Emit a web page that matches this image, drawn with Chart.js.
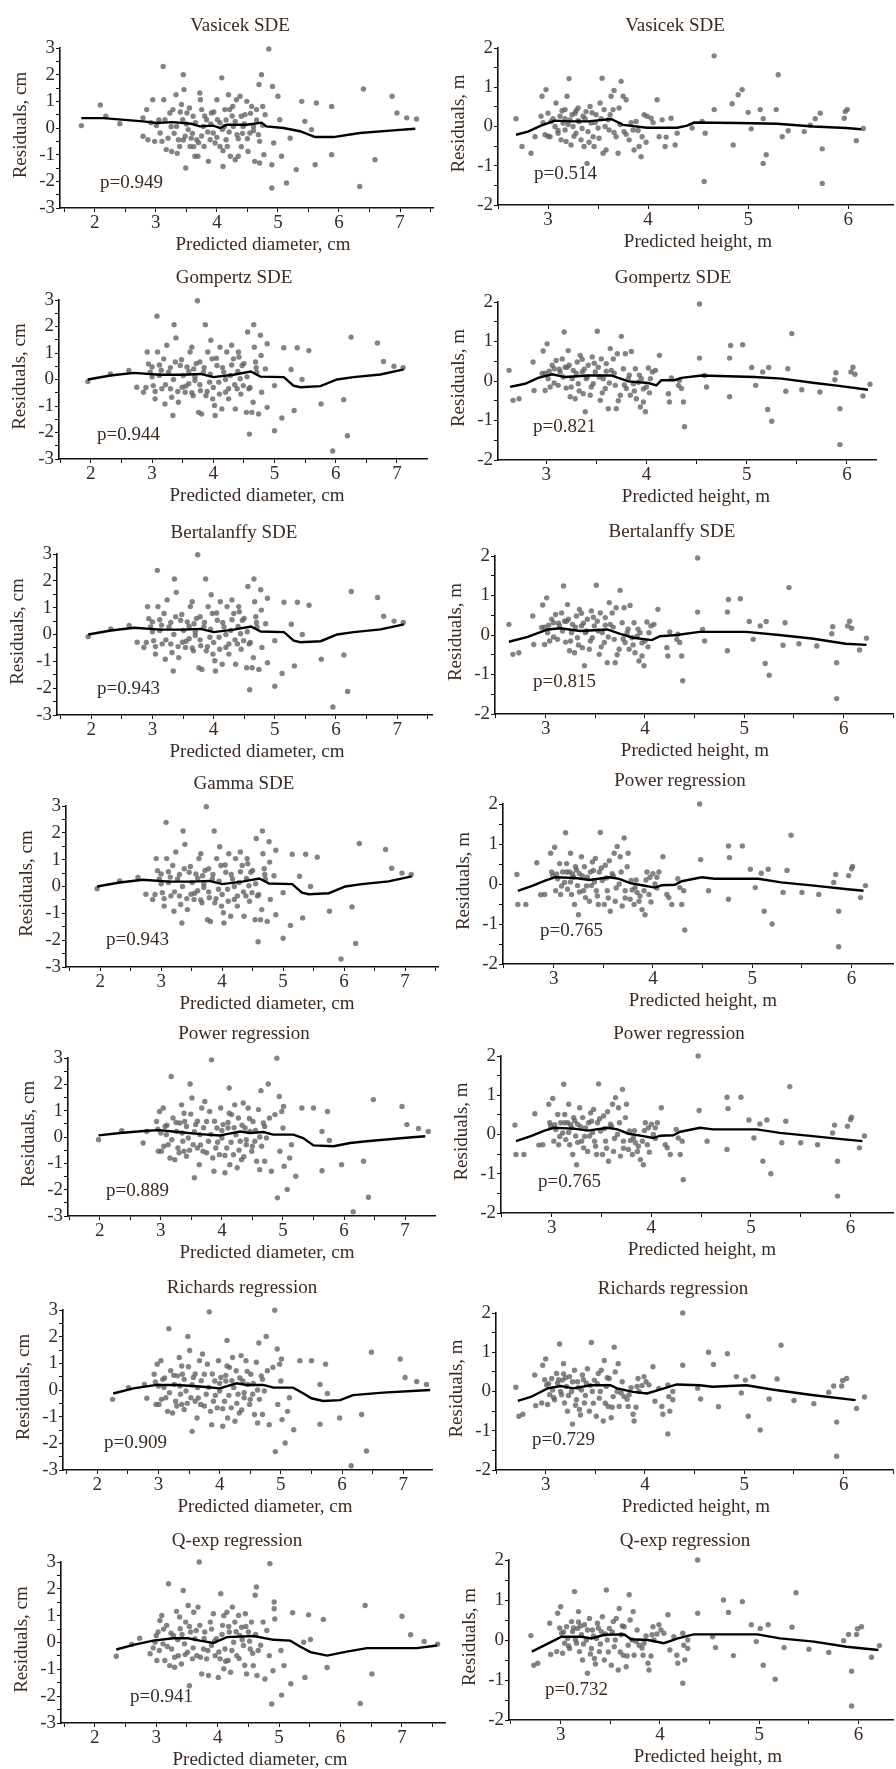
<!DOCTYPE html>
<html>
<head>
<meta charset="utf-8">
<title>Residual plots</title>
<script src="https://cdn.jsdelivr.net/npm/chart.js@4.4.1/dist/chart.umd.min.js"></script>
<style>
  html, body { margin: 0; padding: 0; background: #fff; }
  #page { position: relative; width: 896px; height: 1769px; overflow: hidden; background: #fff; }
  #page canvas { position: absolute; }
</style>
</head>
<body>
<div id="page"></div>
<script>
// ---- residual points, [predicted, residual] ----
const vasicekDiamPts = [
  [1.78,0.09],[2.09,0.86],[2.18,0.44],[2.41,0.16],[2.79,0.38],[2.79,-0.31],[2.85,0.69],[2.87,-0.44],[2.95,1.06],[2.98,-0.5],
  [3.01,0.09],[3.07,-0.19],[3.12,2.31],[3.13,1.06],[3.15,0.31],[3.17,-0.81],[3.2,-0.38],[3.23,0.56],[3.26,-0.88],[3.28,0.69],
  [3.33,1.25],[3.34,0.06],[3.37,-0.44],[3.39,-0.69],[3.42,0.88],[3.44,0.31],[3.45,2.0],[3.46,1.44],[3.48,-0.31],[3.49,-1.5],
  [3.51,0.56],[3.53,-0.06],[3.56,-0.69],[3.58,-0.38],[3.61,0.44],[3.64,-1.06],[3.67,-0.44],[3.69,-1.06],[3.72,1.31],[3.73,1.06],
  [3.75,0.69],[3.78,0.06],[3.79,-0.69],[3.83,0.31],[3.86,-1.25],[3.89,-0.44],[3.91,0.56],[3.94,-0.19],[3.97,-0.56],[4.0,1.06],
  [4.01,0.31],[4.05,-0.69],[4.08,1.88],[4.09,-0.06],[4.1,-1.44],[4.13,0.69],[4.15,-0.44],[4.17,-0.69],[4.19,1.25],[4.21,0.69],
  [4.22,-1.06],[4.26,0.81],[4.27,0.06],[4.3,-1.19],[4.32,1.06],[4.33,-0.25],[4.35,-1.06],[4.38,1.19],[4.4,0.44],[4.43,0.06],
  [4.46,0.5],[4.49,1.0],[4.51,-0.88],[4.54,-0.19],[4.57,0.81],[4.6,0.06],[4.62,-1.25],[4.65,0.69],[4.68,-0.25],[4.69,1.63],
  [4.7,-1.31],[4.73,2.0],[4.75,0.81],[4.77,-1.0],[4.79,0.5],[4.85,2.96],[4.9,-2.25],[4.9,-1.38],[4.91,1.56],[4.93,-0.56],
  [5.0,1.19],[5.03,0.31],[5.06,-1.06],[5.14,-2.06],[5.2,-0.38],[5.3,-1.56],[5.39,1.0],[5.44,0.25],[5.55,-0.06],[5.61,-1.38],
  [5.63,0.94],[5.88,0.81],[5.88,-1.0],[6.34,-2.19],[6.4,1.46],[6.59,-1.19],[6.87,1.19],[6.95,0.56],[7.11,0.38],[7.27,0.34],
  [3.05,0.3],[3.1,-0.5],[3.25,0.05],[3.3,-0.2],[3.4,0.6],[3.45,-0.45],[3.5,0.15],[3.55,0.75],[3.6,-0.2],[3.65,0.2],
  [3.7,-0.55],[3.75,-0.3],[3.8,0.45],[3.85,-0.15],[3.9,0.15],[3.95,0.6],[4.0,-0.35],[4.05,0.2],[4.1,-0.85],[4.15,0.3],
  [4.2,-0.15],[4.25,0.45],[4.3,0.25],[4.35,-0.4],[4.4,-0.7],[4.45,0.15],[4.5,-0.4],[4.55,0.55],[4.6,-0.1],[4.65,0.3],
  [4.7,-0.5],[4.75,0.1],[2.92,0.2],[3.35,-0.95],[3.62,-0.7],[4.12,0.05],[4.42,-0.2]
];

const gompertzDiamPts = [
  [1.95,-0.08],[2.32,0.21],[2.62,0.34],[2.75,-0.29],[2.86,-0.48],[2.92,1.04],[2.94,0.59],[2.97,0.28],[3.0,0.47],[3.02,-0.23],
  [3.05,-0.73],[3.08,2.39],[3.09,1.04],[3.12,0.15],[3.16,-0.35],[3.19,0.78],[3.21,-0.92],[3.24,1.29],[3.27,0.28],[3.3,-0.35],
  [3.32,-0.67],[3.34,-1.36],[3.36,2.07],[3.38,0.66],[3.39,1.57],[3.43,-0.86],[3.46,0.53],[3.49,-0.29],[3.51,0.15],[3.54,-0.48],
  [3.57,0.47],[3.6,-0.16],[3.62,1.04],[3.65,1.22],[3.67,-0.61],[3.68,0.4],[3.7,-0.04],[3.74,2.97],[3.76,-1.24],[3.78,0.66],
  [3.79,-0.42],[3.81,-1.3],[3.84,0.28],[3.87,2.07],[3.88,-0.61],[3.91,1.04],[3.94,-0.1],[3.96,1.48],[3.98,0.78],[3.99,-0.73],
  [4.02,-0.98],[4.03,-1.36],[4.06,0.53],[4.09,-0.1],[4.11,1.22],[4.14,-1.11],[4.17,0.28],[4.2,-0.48],[4.22,1.04],[4.25,-0.73],
  [4.28,0.15],[4.3,1.29],[4.33,0.78],[4.36,-1.11],[4.39,-0.35],[4.41,1.04],[4.44,0.03],[4.47,0.53],[4.49,-0.23],[4.54,-1.24],
  [4.56,1.79],[4.58,-0.35],[4.59,-2.06],[4.63,-1.24],[4.65,-0.86],[4.66,2.07],[4.67,1.22],[4.69,0.66],[4.71,0.28],[4.74,-1.3],
  [4.77,1.67],[4.78,0.91],[4.79,-0.48],[4.85,0.4],[4.88,1.35],[4.88,-1.05],[5.0,-0.23],[5.0,-1.93],[5.12,-1.45],[5.15,1.2],
  [5.27,0.38],[5.32,-1.17],[5.37,1.2],[5.45,0.0],[5.56,1.09],[5.76,-0.92],[5.95,-2.7],[6.13,-0.76],[6.19,-2.12],[6.25,1.6],
  [6.68,1.38],[6.78,0.68],[6.95,0.5],[7.1,0.45],
  [3.0,0.1],[3.05,-0.45],[3.15,0.35],[3.22,-0.2],[3.3,0.45],[3.35,0.0],[3.42,-0.45],[3.48,0.75],[3.55,-0.25],[3.6,0.3],
  [3.65,-0.5],[3.72,0.6],[3.78,-0.2],[3.85,0.45],[3.9,-0.45],[3.95,0.2],[4.0,-0.3],[4.05,0.8],[4.1,-0.55],[4.15,0.45],
  [4.2,0.0],[4.25,-0.35],[4.3,0.55],[4.35,-0.2],[4.4,0.3],[4.45,-0.55],[4.5,0.6],[4.55,0.1],[4.6,-0.3],[4.7,0.45],
  [2.9,-0.3],[3.12,0.55],[3.7,0.1],[4.42,0.85]
];

const powerDiamPts = [
  [1.98,-0.1],[2.36,0.24],[2.71,-0.23],[2.77,0.21],[2.93,0.59],[2.96,-0.54],[2.98,0.97],[3.01,-0.54],[3.04,1.1],[3.07,0.4],
  [3.09,0.09],[3.12,-0.29],[3.15,-0.8],[3.17,2.3],[3.2,0.72],[3.23,-0.86],[3.26,0.21],[3.28,-0.42],[3.31,0.53],[3.34,1.22],
  [3.36,-0.16],[3.38,-0.54],[3.39,0.59],[3.42,-0.73],[3.45,-0.04],[3.48,2.01],[3.49,0.87],[3.51,1.48],[3.53,-0.29],[3.55,-1.55],
  [3.57,0.47],[3.6,-0.42],[3.63,-1.05],[3.64,0.09],[3.67,1.1],[3.69,-0.54],[3.72,1.35],[3.75,0.59],[3.78,-0.16],[3.8,0.97],
  [3.83,2.93],[3.85,-0.8],[3.87,-1.3],[3.9,-0.42],[3.92,0.34],[3.96,-0.67],[3.98,1.1],[4.0,-0.04],[4.02,0.47],[4.05,-1.36],
  [4.08,-0.42],[4.1,0.34],[4.12,1.86],[4.13,-1.05],[4.16,0.85],[4.19,-0.67],[4.21,1.22],[4.23,0.09],[4.25,-1.17],[4.27,0.72],
  [4.3,-0.16],[4.32,-0.86],[4.35,1.29],[4.38,0.34],[4.4,-0.29],[4.43,1.1],[4.46,0.21],[4.49,-0.54],[4.51,0.59],[4.54,-0.16],
  [4.57,-0.92],[4.6,1.04],[4.62,-1.24],[4.64,1.76],[4.65,-0.35],[4.68,0.53],[4.7,-0.92],[4.73,-0.04],[4.76,2.01],[4.78,0.72],
  [4.81,-1.3],[4.87,0.85],[4.9,2.99],[4.91,-2.31],[4.94,1.54],[4.95,-0.54],[4.98,0.97],[5.01,1.16],[5.0,0.34],[5.02,-1.11],
  [5.07,-1.99],[5.11,-0.8],[5.14,-0.29],[5.21,-1.49],[5.31,1.1],[5.5,1.1],[5.73,0.97],[5.64,0.21],[5.64,-1.28],[5.76,-0.13],
  [5.96,-1.05],[6.15,-2.84],[6.32,-0.92],[6.4,-2.29],[6.48,1.42],[6.95,1.16],[7.03,0.47],[7.22,0.32],[7.38,0.21],
  [3.0,0.15],[3.05,-0.35],[3.1,0.45],[3.18,-0.1],[3.25,0.55],[3.3,-0.6],[3.35,0.15],[3.42,0.4],[3.47,-0.5],[3.55,0.2],
  [3.6,0.6],[3.65,-0.3],[3.7,0.35],[3.75,-0.6],[3.82,0.1],[3.88,0.6],[3.93,-0.2],[4.0,0.25],[4.05,-0.7],[4.1,0.55],
  [4.15,-0.2],[4.2,0.35],[4.28,-0.5],[4.33,0.45],[4.4,-0.1],[4.45,0.7],[4.5,-0.35],[4.55,0.25],[4.62,0.0],[4.7,0.4],
  [2.95,0.3],[3.38,0.9],[4.12,0.9],[4.36,-0.75]
];

// Richards keeps the Power cloud except its three leftmost residuals
const richardsDiamLeft = [[2.25,-0.35],[2.51,0.09],[2.81,-0.31]];
const richardsDiamPts = richardsDiamLeft.concat(powerDiamPts.slice(3));

const qexpDiamPts = [
  [2.35,-0.51],[2.6,-0.07],[2.73,0.16],[2.9,-0.42],[2.98,0.01],[3.01,-0.67],[3.03,0.39],[3.06,0.82],[3.09,1.01],[3.11,-0.05],
  [3.14,-0.67],[3.17,0.64],[3.2,2.19],[3.22,-0.86],[3.25,-0.24],[3.28,0.26],[3.3,-0.92],[3.33,1.16],[3.36,-0.49],[3.39,0.51],
  [3.41,-0.8],[3.44,1.94],[3.46,-0.05],[3.48,0.76],[3.51,-0.36],[3.52,1.38],[3.54,-1.61],[3.56,0.39],[3.59,-0.61],[3.61,1.13],
  [3.63,0.14],[3.66,-0.49],[3.68,1.32],[3.7,3.0],[3.71,0.64],[3.74,-1.17],[3.77,-0.24],[3.79,0.39],[3.82,-0.61],[3.85,-1.23],
  [3.88,0.76],[3.9,-0.11],[3.93,1.07],[3.96,-0.49],[3.98,0.14],[4.01,-1.3],[4.04,-0.61],[4.05,1.82],[4.08,0.64],[4.1,-0.98],
  [4.12,-0.24],[4.15,1.13],[4.17,-0.67],[4.19,0.39],[4.21,-1.11],[4.24,1.32],[4.26,0.01],[4.28,0.76],[4.31,-0.49],[4.34,1.01],
  [4.36,0.26],[4.39,0.57],[4.42,-0.11],[4.45,1.07],[4.47,-1.17],[4.5,0.39],[4.53,-0.24],[4.55,0.76],[4.58,-0.86],[4.61,1.76],
  [4.63,2.07],[4.64,-1.23],[4.66,-0.3],[4.74,0.76],[4.77,-1.36],[4.8,0.45],[4.84,-0.49],[4.85,2.94],[4.88,-2.29],[4.9,-1.05],
  [4.92,1.51],[4.92,1.26],[4.93,0.88],[5.03,-0.3],[5.04,-1.96],[5.08,-0.86],[5.19,-1.54],[5.22,1.11],[5.4,0.01],[5.42,-1.3],
  [5.48,1.03],[5.51,0.11],[5.72,0.86],[5.78,-0.93],[6.32,-2.27],[6.4,1.38],[6.51,-1.17],[7.0,0.98],[7.14,0.29],[7.36,0.04],
  [7.58,-0.06],
  [3.0,0.25],[3.05,-0.3],[3.12,0.5],[3.18,-0.15],[3.24,0.35],[3.3,-0.55],[3.35,0.1],[3.42,0.3],[3.47,-0.45],[3.54,0.6],
  [3.6,-0.2],[3.65,0.45],[3.72,-0.55],[3.78,0.15],[3.84,-0.3],[3.9,0.5],[3.95,0.05],[4.02,-0.35],[4.07,0.3],[4.13,-0.7],
  [4.18,0.6],[4.23,-0.3],[4.3,0.4],[4.35,-0.6],[4.4,0.1],[4.46,0.6],[4.52,0.05],[4.57,-0.4],[4.62,0.3],[4.7,-0.1],
  [2.95,-0.2],[3.38,0.95],[4.1,1.0],[4.44,-0.85]
];

const vasicekHtPts = [
  [2.68,0.2],[2.74,-0.51],[2.83,-0.68],[2.87,-0.26],[2.93,0.26],[2.94,0.77],[2.97,-0.21],[2.98,0.94],[3.0,0.34],[3.02,-0.26],
  [3.03,0.13],[3.07,0.0],[3.08,0.6],[3.1,-0.17],[3.12,0.26],[3.13,-0.34],[3.15,0.09],[3.17,0.43],[3.17,-0.09],[3.18,-0.38],
  [3.19,0.77],[3.21,1.22],[3.22,0.17],[3.23,-0.47],[3.25,0.0],[3.27,0.34],[3.28,-0.17],[3.3,0.47],[3.31,0.13],[3.33,-0.34],
  [3.35,0.26],[3.36,-0.51],[3.38,0.38],[3.39,-0.94],[3.4,-0.13],[3.42,0.51],[3.43,0.09],[3.45,-0.26],[3.46,-0.51],[3.48,0.3],
  [3.5,-0.04],[3.52,0.6],[3.54,1.23],[3.55,-0.68],[3.56,0.43],[3.58,-0.6],[3.6,0.17],[3.61,-0.09],[3.63,0.77],[3.65,0.43],
  [3.66,0.92],[3.68,-0.26],[3.7,-0.68],[3.71,0.47],[3.73,1.15],[3.75,0.77],[3.76,-0.13],[3.78,0.68],[3.81,-0.34],[3.85,-0.09],
  [3.86,-0.6],[3.88,0.13],[3.91,-0.51],[3.93,-0.77],[3.94,-0.26],[3.96,0.3],[3.99,0.26],[4.03,0.21],[4.09,0.68],[4.11,-0.26],
  [4.14,0.17],[4.17,-0.51],[4.18,-0.27],[4.23,0.21],[4.27,-0.47],[4.29,-0.17],[4.44,-0.04],[4.54,0.13],[4.56,-1.4],[4.57,-0.17],
  [4.66,1.8],[4.66,0.43],[4.84,0.58],[4.85,-0.47],[4.9,0.81],[4.94,0.94],[5.0,0.36],[5.03,-0.06],[5.12,0.43],[5.15,-0.94],
  [5.15,0.2],[5.18,-0.72],[5.28,0.43],[5.3,1.32],[5.34,-0.26],[5.4,-0.11],[5.56,-0.13],[5.62,0.03],[5.67,0.2],[5.72,0.34],
  [5.74,-0.57],[5.74,-1.45],[5.96,0.21],[5.97,0.38],[5.99,0.43],[6.08,-0.36],[6.15,-0.05],
  [3.05,0.2],[3.1,-0.1],[3.14,0.4],[3.2,0.05],[3.24,0.3],[3.26,-0.25],[3.3,0.15],[3.34,-0.05],[3.37,0.2],[3.41,-0.4],
  [3.44,0.35],[3.47,0.1],[3.51,-0.3],[3.53,0.2],[3.57,0.0],[3.62,0.3],[3.66,-0.15],[3.72,0.05],[3.78,-0.2],[3.83,0.1],
  [3.9,-0.1],[3.98,-0.4],[4.05,0.1],[2.95,0.1],[3.0,-0.25],[3.17,0.2],[3.28,0.4]
];

const gompertzHtPts = [
  [2.63,0.27],[2.67,-0.49],[2.73,-0.45],[2.87,0.48],[2.88,-0.24],[2.96,0.19],[2.97,0.76],[2.99,-0.24],[3.01,0.94],[3.02,0.06],
  [3.04,-0.15],[3.06,0.4],[3.08,0.31],[3.1,0.52],[3.12,-0.11],[3.14,0.23],[3.16,0.56],[3.18,1.24],[3.2,-0.18],[3.21,0.35],
  [3.22,0.77],[3.24,-0.4],[3.26,0.06],[3.27,0.27],[3.29,-0.45],[3.31,0.48],[3.32,-0.07],[3.34,0.65],[3.36,0.23],[3.37,-0.32],
  [3.39,-0.78],[3.4,0.06],[3.42,0.4],[3.44,-0.36],[3.46,0.61],[3.47,-0.07],[3.49,0.23],[3.51,1.26],[3.52,0.35],[3.54,-0.49],
  [3.55,0.56],[3.57,0.06],[3.59,-0.19],[3.6,0.44],[3.62,-0.7],[3.64,0.82],[3.65,0.27],[3.67,0.56],[3.69,-0.11],[3.7,-0.7],
  [3.71,0.69],[3.74,-0.36],[3.75,1.13],[3.77,0.31],[3.79,0.69],[3.8,-0.19],[3.82,0.06],[3.84,-0.36],[3.85,0.75],[3.87,-0.07],
  [3.89,0.31],[3.9,-0.45],[3.92,-0.03],[3.94,-0.66],[3.95,0.06],[3.97,-0.53],[3.99,-0.78],[4.0,-0.15],[4.02,0.33],[4.04,0.06],
  [4.06,0.23],[4.09,0.27],[4.13,0.65],[4.22,-0.32],[4.23,-0.53],[4.25,0.08],[4.32,-0.11],[4.33,0.02],[4.35,-0.19],[4.37,-0.53],
  [4.38,-1.16],[4.53,1.95],[4.53,0.58],[4.58,0.14],[4.6,-0.15],[4.83,0.58],[4.83,-0.4],[4.84,0.9],[4.96,0.92],[5.05,0.34],
  [5.09,-0.11],[5.16,0.23],[5.21,-0.72],[5.22,0.34],[5.25,-1.02],[5.39,-0.26],[5.41,0.31],[5.45,1.2],[5.55,-0.22],[5.73,-0.28],
  [5.88,0.03],[5.89,0.21],[5.93,-0.7],[5.93,-1.61],[6.04,0.23],[6.06,0.35],[6.08,0.17],[6.16,-0.38],[6.23,-0.08],
  [3.03,0.25],[3.08,-0.05],[3.13,0.3],[3.17,0.1],[3.23,0.4],[3.25,-0.15],[3.3,0.2],[3.33,-0.25],[3.38,0.3],[3.41,0.1],
  [3.45,-0.15],[3.48,0.45],[3.53,0.1],[3.56,-0.3],[3.6,0.25],[3.63,-0.05],[3.68,0.2],[3.72,-0.5],[3.78,-0.1],[3.83,0.15],
  [3.88,-0.25],[3.93,0.15],[3.97,-0.2],[4.03,-0.3],[2.99,0.2],[3.19,0.35],[3.36,0.55]
];

const powerHtPts = [
  [2.63,0.24],[2.64,-0.51],[2.72,-0.51],[2.83,0.53],[2.87,-0.27],[2.91,-0.26],[2.97,0.77],[2.99,0.21],[3.01,0.92],[3.02,-0.17],
  [3.04,0.13],[3.06,0.51],[3.07,-0.26],[3.09,0.3],[3.11,0.04],[3.12,1.28],[3.13,0.51],[3.14,-0.13],[3.16,0.3],[3.17,0.77],
  [3.18,-0.26],[3.2,0.17],[3.21,-0.51],[3.22,0.43],[3.24,-0.04],[3.25,-0.77],[3.26,0.26],[3.28,0.68],[3.3,-0.17],[3.31,0.43],
  [3.32,-0.34],[3.34,0.17],[3.36,-0.43],[3.38,-0.04],[3.4,0.34],[3.42,0.64],[3.43,-0.17],[3.45,-0.51],[3.46,0.3],[3.47,1.29],
  [3.49,0.09],[3.51,-0.51],[3.52,0.47],[3.54,-0.17],[3.56,0.58],[3.57,-0.68],[3.59,0.26],[3.61,0.77],[3.62,-0.43],[3.64,0.94],
  [3.66,0.0],[3.67,0.68],[3.69,-0.55],[3.71,1.15],[3.72,-0.17],[3.74,0.43],[3.75,0.77],[3.77,-0.38],[3.78,0.09],[3.81,-0.51],
  [3.82,-0.09],[3.84,-0.21],[3.86,-0.43],[3.89,-0.64],[3.91,-0.17],[3.92,-0.77],[3.94,0.3],[3.96,-0.26],[3.97,0.17],[4.0,0.26],
  [4.02,0.0],[4.04,0.17],[4.06,0.3],[4.1,0.68],[4.14,-0.26],[4.16,-0.34],[4.19,-0.51],[4.25,0.13],[4.27,-0.09],[4.29,-0.51],
  [4.31,-0.17],[4.32,-1.15],[4.47,2.0],[4.48,0.61],[4.56,-0.17],[4.76,0.95],[4.77,0.66],[4.76,-0.38],[4.9,0.95],[4.98,0.37],
  [5.03,-0.09],[5.09,0.27],[5.12,-0.68],[5.16,0.37],[5.2,-1.0],[5.31,-0.21],[5.35,0.34],[5.39,1.22],[5.5,-0.21],[5.67,-0.26],
  [5.82,0.04],[5.84,0.24],[5.87,-0.68],[5.87,-1.57],[5.97,0.21],[6.0,0.38],[6.01,0.44],[6.09,-0.34],[6.14,-0.04],
  [3.03,0.25],[3.08,-0.05],[3.13,0.3],[3.17,0.05],[3.23,0.35],[3.26,-0.2],[3.29,0.2],[3.33,-0.05],[3.37,0.3],[3.41,0.05],
  [3.44,-0.3],[3.48,0.4],[3.53,0.15],[3.55,-0.35],[3.6,0.2],[3.63,-0.1],[3.68,0.3],[3.72,-0.35],[3.79,-0.15],[3.83,0.1],
  [3.87,-0.3],[3.93,0.1],[3.98,-0.45],[4.04,-0.1],[2.98,0.3],[3.19,0.25],[3.39,0.55]
];

const qexpHtPts = [
  [2.7,0.11],[2.73,-0.63],[2.77,-0.58],[2.89,0.42],[2.9,-0.36],[2.96,-0.29],[2.97,0.67],[3.0,0.83],[3.01,0.17],[3.02,-0.33],
  [3.04,-0.08],[3.06,0.33],[3.07,0.04],[3.09,-0.21],[3.11,0.46],[3.12,0.21],[3.14,1.21],[3.16,-0.08],[3.17,0.29],[3.18,0.71],
  [3.19,-0.29],[3.21,0.13],[3.22,-0.5],[3.24,0.38],[3.26,0.0],[3.27,-0.83],[3.29,0.54],[3.31,-0.21],[3.32,0.25],[3.34,-0.46],
  [3.36,0.04],[3.37,0.42],[3.39,-0.29],[3.41,0.21],[3.42,0.58],[3.44,-0.5],[3.46,1.25],[3.47,0.0],[3.49,0.29],[3.51,-0.63],
  [3.53,0.46],[3.54,-0.17],[3.56,0.54],[3.58,-0.75],[3.59,0.79],[3.61,0.13],[3.63,-0.38],[3.64,0.33],[3.66,-0.67],[3.68,-0.13],
  [3.69,1.13],[3.7,0.5],[3.73,0.71],[3.74,-0.38],[3.76,-0.04],[3.79,-0.13],[3.83,-0.38],[3.84,-0.08],[3.88,-0.58],[3.89,-0.75],
  [3.92,0.13],[3.93,0.33],[3.94,0.0],[3.99,0.38],[4.01,0.25],[4.04,0.17],[4.08,0.63],[4.1,-0.25],[4.14,0.08],[4.17,-0.38],
  [4.18,-0.58],[4.23,0.17],[4.23,-1.08],[4.24,-0.13],[4.25,-0.5],[4.28,0.0],[4.28,-0.21],[4.38,2.0],[4.38,0.67],[4.53,0.08],
  [4.56,-0.19],[4.64,1.0],[4.69,0.69],[4.74,-0.39],[4.83,0.96],[4.92,0.38],[4.97,-0.04],[5.01,0.29],[5.04,-0.63],[5.09,0.38],
  [5.16,-0.98],[5.25,-0.19],[5.33,0.32],[5.37,1.18],[5.5,-0.23],[5.7,-0.31],[5.85,-0.02],[5.9,0.14],[5.93,-0.78],[5.93,-1.65],
  [5.98,0.14],[5.99,0.28],[6.03,0.33],[6.13,-0.43],[6.21,-0.14],
  [3.03,0.2],[3.08,-0.15],[3.13,0.3],[3.15,0.0],[3.2,0.35],[3.23,-0.1],[3.27,0.25],[3.3,-0.35],[3.33,0.1],[3.38,0.3],
  [3.4,-0.1],[3.45,0.15],[3.48,-0.3],[3.52,0.2],[3.55,0.0],[3.6,-0.3],[3.62,0.35],[3.67,-0.4],[3.72,0.0],[3.77,0.25],
  [3.82,-0.2],[3.86,0.1],[3.91,-0.4],[3.97,0.15],[2.99,0.3],[3.18,0.45],[3.35,-0.6]
];

// ---- smoothed residual lines ----
const vasicekDiamLine = [[1.78,0.37],[2.14,0.37],[2.79,0.25],[3.01,0.19],[3.28,0.22],[3.58,0.16],[3.72,0.06],[3.94,0.09],[4.05,0.0],[4.16,0.12],[4.49,0.12],[4.73,0.2],[4.81,0.06],[5.09,0.0],[5.36,-0.12],[5.61,-0.34],[5.91,-0.34],[6.34,-0.19],[6.89,-0.09],[7.25,-0.03]];
const gompertzDiamLine = [[1.95,0.0],[2.32,0.15],[2.7,0.25],[3.13,0.18],[3.51,0.18],[3.79,0.21],[4.0,0.09],[4.33,0.18],[4.61,0.3],[4.77,0.11],[5.15,0.09],[5.31,-0.23],[5.42,-0.29],[5.75,-0.25],[6.02,0.0],[6.29,0.09],[6.73,0.19],[7.11,0.38]];
const powerDiamLine = [[1.98,0.06],[2.33,0.15],[2.77,0.24],[2.98,0.26],[3.2,0.21],[3.64,0.11],[3.97,0.06],[4.08,0.11],[4.3,0.21],[4.46,0.15],[4.68,0.19],[4.84,0.09],[5.17,0.09],[5.33,-0.04],[5.5,-0.32],[5.83,-0.35],[6.1,-0.23],[6.37,-0.16],[6.97,-0.04],[7.33,0.03]];
const richardsDiamLine = [[2.26,-0.13],[2.59,0.06],[2.97,0.19],[3.3,0.19],[3.68,0.13],[4.0,0.06],[4.28,0.25],[4.44,0.19],[4.71,0.19],[4.88,0.09],[5.2,0.09],[5.37,-0.13],[5.5,-0.31],[5.69,-0.41],[5.97,-0.38],[6.18,-0.19],[6.67,-0.1],[7.44,0.0]];
const qexpDiamLine = [[2.35,-0.26],[2.63,-0.09],[2.95,0.07],[3.28,0.16],[3.52,0.16],[3.71,0.07],[3.93,-0.02],[4.15,0.2],[4.58,0.24],[4.91,0.1],[5.18,0.07],[5.34,-0.15],[5.51,-0.36],[5.78,-0.49],[6.1,-0.34],[6.43,-0.21],[7.24,-0.21],[7.57,-0.11]];

const vasicekHtLine = [[2.68,-0.21],[2.8,-0.13],[2.93,0.02],[3.07,0.15],[3.23,0.13],[3.4,0.13],[3.63,0.19],[3.75,0.04],[3.99,-0.03],[4.29,-0.03],[4.39,0.02],[4.46,0.1],[4.89,0.09],[5.29,0.07],[5.65,0.0],[5.98,-0.04],[6.13,-0.07]];
const gompertzHtLine = [[2.64,-0.15],[2.79,-0.07],[2.92,0.08],[3.06,0.17],[3.19,0.1],[3.42,0.14],[3.65,0.14],[3.82,-0.01],[4.02,-0.05],[4.1,-0.11],[4.15,0.02],[4.28,0.02],[4.35,0.08],[4.55,0.14],[5.08,0.1],[5.35,0.06],[5.68,-0.05],[5.94,-0.13],[6.21,-0.22]];
const bertalanffyHtLine = [[2.63,-0.17],[2.82,-0.05],[3.02,0.14],[3.15,0.17],[3.35,0.1],[3.62,0.14],[3.75,0.03],[3.88,-0.07],[4.07,-0.13],[4.15,-0.03],[4.32,0.0],[4.55,0.08],[5.02,0.08],[5.35,0.0],[5.68,-0.09],[6.02,-0.22],[6.23,-0.25]];
const powerHtLine = [[2.64,-0.17],[2.79,-0.04],[2.92,0.09],[3.02,0.17],[3.22,0.15],[3.36,0.1],[3.56,0.17],[3.66,0.13],[3.77,0.02],[3.89,-0.03],[4.02,-0.09],[4.09,-0.03],[4.22,-0.02],[4.29,0.07],[4.49,0.17],[4.62,0.13],[5.06,0.13],[5.29,0.04],[5.62,-0.04],[5.96,-0.13],[6.12,-0.17]];
const richardsHtLine = [[2.72,-0.24],[2.85,-0.14],[3.02,0.08],[3.15,0.14],[3.28,0.08],[3.45,0.16],[3.65,0.16],[3.72,0.08],[3.88,-0.01],[4.02,-0.05],[4.15,0.05],[4.32,0.18],[4.55,0.16],[4.68,0.12],[5.02,0.16],[5.28,0.05],[5.68,-0.09],[6.12,-0.22]];
const qexpHtLine = [[2.71,-0.29],[2.84,-0.13],[3.01,0.08],[3.21,0.08],[3.31,0.04],[3.44,0.13],[3.64,0.14],[3.71,0.02],[3.88,0.0],[4.04,-0.08],[4.18,0.04],[4.24,0.08],[4.34,0.14],[4.98,0.14],[5.21,0.04],[5.55,-0.04],[5.88,-0.17],[6.2,-0.25]];

const diamLabels = { x: "Predicted diameter, cm", y: "Residuals, cm" };
const htLabels = { x: "Predicted height, m", y: "Residuals, m" };

// layout of each panel in page pixels (axis corner, tick span, text anchors)
const panels = [
  { col: 0, title: "Vasicek SDE", p: "p=0.949", lab: diamLabels, pts: vasicekDiamPts, line: vasicekDiamLine,
    ax: 60, xEnd: 433, yTop: 48, yBot: 208, xMin: 1.43, xMax: 7.54, yMin: -3, yMax: 3, tx: 240, ty: 26, px: 100, py: 183 },
  { col: 0, title: "Gompertz SDE", p: "p=0.944", lab: diamLabels, pts: gompertzDiamPts, line: gompertzDiamLine,
    ax: 59, xEnd: 427, yTop: 300, yBot: 459, xMin: 1.48, xMax: 7.49, yMin: -3, yMax: 3, tx: 234, ty: 278, px: 97, py: 435 },
  { col: 0, title: "Bertalanffy SDE", p: "p=0.943", lab: diamLabels, pts: gompertzDiamPts, line: gompertzDiamLine,
    ax: 57, xEnd: 432, yTop: 554, yBot: 715, xMin: 1.44, xMax: 7.57, yMin: -3, yMax: 3, tx: 234, ty: 533, px: 97, py: 689 },
  { col: 0, title: "Gamma SDE", p: "p=0.943", lab: diamLabels, pts: gompertzDiamPts, line: gompertzDiamLine,
    ax: 66, xEnd: 438, yTop: 806, yBot: 967, xMin: 1.44, xMax: 7.54, yMin: -3, yMax: 3, tx: 244, ty: 784, px: 106, py: 940 },
  { col: 0, title: "Power regression", p: "p=0.889", lab: diamLabels, pts: powerDiamPts, line: powerDiamLine,
    ax: 68, xEnd: 435, yTop: 1058, yBot: 1216, xMin: 1.48, xMax: 7.49, yMin: -3, yMax: 3, tx: 244, ty: 1034, px: 106, py: 1191 },
  { col: 0, title: "Richards regression", p: "p=0.909", lab: diamLabels, pts: richardsDiamPts, line: richardsDiamLine,
    ax: 63, xEnd: 432, yTop: 1310, yBot: 1470, xMin: 1.44, xMax: 7.47, yMin: -3, yMax: 3, tx: 242, ty: 1288, px: 104, py: 1443 },
  { col: 0, title: "Q-exp regression", p: "p=0.941", lab: diamLabels, pts: qexpDiamPts, line: qexpDiamLine,
    ax: 61, xEnd: 445, yTop: 1562, yBot: 1723, xMin: 1.45, xMax: 7.70, yMin: -3, yMax: 3, tx: 237, ty: 1541, px: 130, py: 1697 },

  { col: 1, title: "Vasicek SDE", p: "p=0.514", lab: htLabels, pts: vasicekHtPts, line: vasicekHtLine,
    ax: 498, xEnd: 895, yTop: 48, yBot: 205, xMin: 2.50, xMax: 6.45, yMin: -2, yMax: 2, tx: 675, ty: 26, px: 534, py: 174 },
  { col: 1, title: "Gompertz SDE", p: "p=0.821", lab: htLabels, pts: gompertzHtPts, line: gompertzHtLine,
    ax: 498, xEnd: 876, yTop: 302, yBot: 460, xMin: 2.52, xMax: 6.29, yMin: -2, yMax: 2, tx: 673, ty: 278, px: 533, py: 427 },
  { col: 1, title: "Bertalanffy SDE", p: "p=0.815", lab: htLabels, pts: gompertzHtPts, line: bertalanffyHtLine,
    ax: 495, xEnd: 896, yTop: 556, yBot: 714, xMin: 2.49, xMax: 6.50, yMin: -2, yMax: 2, tx: 672, ty: 532, px: 533, py: 682 },
  { col: 1, title: "Power regression", p: "p=0.765", lab: htLabels, pts: powerHtPts, line: powerHtLine,
    ax: 503, xEnd: 896, yTop: 804, yBot: 964, xMin: 2.49, xMax: 6.42, yMin: -2, yMax: 2, tx: 680, ty: 781, px: 540, py: 931 },
  { col: 1, title: "Power regression", p: "p=0.765", lab: htLabels, pts: powerHtPts, line: powerHtLine,
    ax: 501, xEnd: 895, yTop: 1056, yBot: 1213, xMin: 2.49, xMax: 6.43, yMin: -2, yMax: 2, tx: 679, ty: 1034, px: 538, py: 1182 },
  { col: 1, title: "Richards regression", p: "p=0.729", lab: htLabels, pts: qexpHtPts, line: richardsHtLine,
    ax: 496, xEnd: 896, yTop: 1313, yBot: 1470, xMin: 2.50, xMax: 6.50, yMin: -2, yMax: 2, tx: 673, ty: 1289, px: 532, py: 1440 },
  { col: 1, title: "Q-exp regression", p: "p=0.732", lab: htLabels, pts: qexpHtPts, line: qexpHtLine,
    ax: 509, xEnd: 895, yTop: 1560, yBot: 1720, xMin: 2.48, xMax: 6.35, yMin: -2, yMax: 2, tx: 685, ty: 1541, px: 545, py: 1690 }
];

const TEXT_COLOR = "#3a2a20";
const FONT_FAMILY = '"Liberation Serif", "Times New Roman", serif';
const FONT_SIZE = 19;
const PAD_TOP = 45, PAD_BOT = 55, Y_W = 30, X_H = 24, COL_W = 448;

const page = document.getElementById("page");

// half-step ticks, labels only on whole numbers
function halfTicks(min, max) {
  const out = [];
  for (let v = Math.ceil(min * 2) / 2; v <= max + 1e-9; v += 0.5) out.push({ value: Math.round(v * 2) / 2 });
  return out;
}

function axisOpts(min, max, horizontal) {
  return {
    type: "linear",
    min, max,
    afterBuildTicks: s => { s.ticks = halfTicks(min, max); },
    afterFit: s => { if (horizontal) s.height = X_H; else s.width = Y_W; },
    ticks: {
      autoSkip: false,
      maxRotation: 0,
      padding: horizontal ? 0 : 1,
      color: TEXT_COLOR,
      font: { family: FONT_FAMILY, size: FONT_SIZE },
      callback: v => Number.isInteger(v) ? String(v) : ""
    },
    grid: { drawOnChartArea: false, drawTicks: true, tickLength: 4, tickColor: "#111", tickWidth: 1 },
    border: { display: true, color: "#111", width: 1.6 }
  };
}

// titles, axis titles and the p value
const panelText = {
  id: "panelText",
  afterDraw(chart, args, o) {
    const p = o.panel;
    const ox = o.left, oy = o.top;
    const ctx = chart.ctx;
    ctx.save();
    ctx.fillStyle = TEXT_COLOR;
    ctx.font = FONT_SIZE + "px " + FONT_FAMILY;
    ctx.textBaseline = "middle";
    ctx.textAlign = "center";
    ctx.fillText(p.title, p.tx - ox, p.ty - oy);
    ctx.fillText(p.lab.x, p.tx + 23 - ox, p.yBot + 37 - oy);
    ctx.save();
    ctx.translate(p.ax - 39 - ox, (p.yTop + p.yBot) / 2 - 3 - oy);
    ctx.rotate(-Math.PI / 2);
    ctx.fillText(p.lab.y, 0, 0);
    ctx.restore();
    ctx.textAlign = "left";
    ctx.fillText(p.p, p.px - ox, p.py - oy);
    ctx.restore();
  }
};

panels.forEach(p => {
  const left = p.col * COL_W;
  const top = p.yTop - PAD_TOP;
  const h = (p.yBot - p.yTop) + PAD_TOP + PAD_BOT;
  const cv = document.createElement("canvas");
  cv.width = COL_W;
  cv.height = h;
  cv.style.left = left + "px";
  cv.style.top = top + "px";
  cv.style.width = COL_W + "px";
  cv.style.height = h + "px";
  page.appendChild(cv);

  new Chart(cv, {
    type: "scatter",
    data: {
      datasets: [
        {
          data: p.line.map(([x, y]) => ({ x, y })),
          showLine: true,
          borderColor: "#000",
          borderWidth: 2.4,
          pointRadius: 0,
          tension: 0,
          fill: false
        },
        {
          data: p.pts.map(([x, y]) => ({ x, y })),
          backgroundColor: "rgba(96,96,96,0.78)",
          borderWidth: 0,
          pointRadius: 2.7,
          pointHoverRadius: 2.7,
          clip: false
        }
      ]
    },
    options: {
      responsive: false,
      animation: false,
      devicePixelRatio: 1,
      events: [],
      layout: {
        padding: {
          top: PAD_TOP,
          bottom: PAD_BOT - X_H,
          left: p.ax - left - Y_W,
          right: COL_W - (p.xEnd - left)
        }
      },
      plugins: {
        legend: { display: false },
        tooltip: { enabled: false },
        panelText: { panel: p, left, top }
      },
      scales: {
        x: axisOpts(p.xMin, p.xMax, true),
        y: axisOpts(p.yMin, p.yMax, false)
      }
    },
    plugins: [panelText]
  });
});
</script>
</body>
</html>
